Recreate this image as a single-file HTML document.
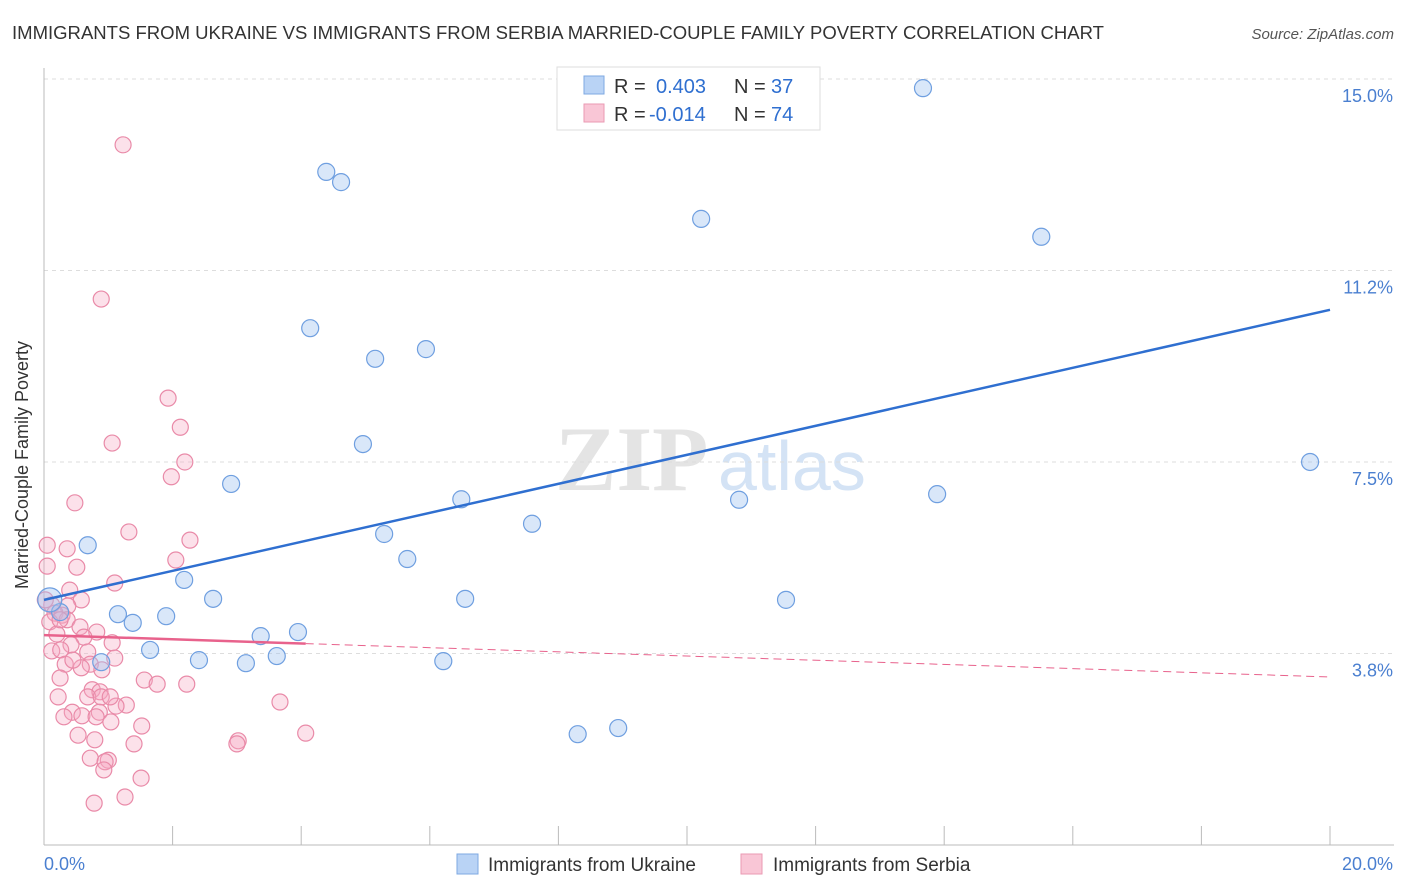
<!DOCTYPE html>
<html><head><meta charset="utf-8"><style>
body{margin:0;background:#fff;font-family:"Liberation Sans",sans-serif;}
svg{display:block}
</style></head><body>
<svg id="chart" width="1406" height="892" xmlns="http://www.w3.org/2000/svg">
<text x="12" y="39" font-size="18" fill="#333" textLength="1092" lengthAdjust="spacingAndGlyphs">IMMIGRANTS FROM UKRAINE VS IMMIGRANTS FROM SERBIA MARRIED-COUPLE FAMILY POVERTY CORRELATION CHART</text>
<text x="1394" y="39" font-size="15" fill="#555" font-style="italic" text-anchor="end">Source: ZipAtlas.com</text>
<g>
<text x="555" y="490" font-size="92" fill="#e4e4e4" font-family="Liberation Serif,serif" font-weight="bold">ZIP</text>
<text x="718" y="490" font-size="70" fill="#d4e3f5">atlas</text>
</g>
<g id="grid"></g>
<g id="axes"></g>
<g id="pts"></g>
<g id="trend"></g>
<text x="18" y="455" font-size="18" fill="#333" text-anchor="middle" transform="rotate(-90 28 455)">Married-Couple Family Poverty</text>
<g>
<rect x="557" y="67" width="263" height="63" fill="#fff" stroke="#ddd"/>
<rect x="584" y="76" width="20" height="18" fill="#b9d3f5" stroke="#7ea8e2"/>
<rect x="584" y="104" width="20" height="18" fill="#f9c6d6" stroke="#ea9ab3"/>
<text x="614" y="93" font-size="20" fill="#333">R =</text><text x="656" y="93" font-size="20" fill="#2f6fd0">0.403</text>
<text x="734" y="93" font-size="20" fill="#333">N =</text><text x="771" y="93" font-size="20" fill="#2f6fd0">37</text>
<text x="614" y="121" font-size="20" fill="#333">R =</text><text x="649" y="121" font-size="20" fill="#2f6fd0">-0.014</text>
<text x="734" y="121" font-size="20" fill="#333">N =</text><text x="771" y="121" font-size="20" fill="#2f6fd0">74</text>
</g>
<g>
<rect x="457" y="854" width="21" height="20" fill="#b9d3f5" stroke="#7ea8e2"/>
<text x="488" y="871" font-size="19" fill="#333">Immigrants from Ukraine</text>
<rect x="741" y="854" width="21" height="20" fill="#f9c6d6" stroke="#ea9ab3"/>
<text x="773" y="871" font-size="19" fill="#333">Immigrants from Serbia</text>
</g>
</svg>
<script>
const yTicks=[3.75,7.5,11.25,15];
const yTickLabels=["3.8%","7.5%","11.2%","15.0%"];
const xTickVals=[0,2,4,6,8,10,12,14,16,18,20];
const ukraineX=[13.67,4.39,4.62,10.22,15.51,4.14,5.15,5.94,4.96,19.69,2.91,6.49,10.81,13.89,7.59,5.29,0.68,5.65,2.18,2.63,6.55,11.54,1.15,1.90,1.38,0.25,3.37,3.95,1.65,2.41,3.14,3.62,0.89,6.21,8.30,8.93,0.09];
const ukraineY=[14.82,13.18,12.98,12.26,11.91,10.12,9.52,9.71,7.85,7.50,7.07,6.77,6.76,6.87,6.29,6.09,5.87,5.60,5.19,4.82,4.82,4.80,4.52,4.48,4.35,4.56,4.09,4.17,3.82,3.62,3.56,3.70,3.58,3.60,2.17,2.29,4.80];
const serbiaX=[1.23,0.89,1.93,2.12,1.06,2.19,1.98,0.48,1.32,2.27,0.05,0.36,2.05,0.05,0.51,1.10,0.40,0.58,0.12,0.37,0.17,0.28,0.36,0.09,0.56,0.82,0.20,0.62,1.06,0.42,0.12,0.68,0.26,1.10,0.72,0.33,0.58,0.90,1.56,1.76,2.22,0.25,0.75,0.87,0.68,0.89,3.67,1.28,1.12,0.44,0.86,0.59,0.81,0.31,1.04,1.52,0.53,4.07,1.40,3.02,3.00,0.72,1.00,0.95,0.93,1.51,1.26,0.78,0.25,0.02,0.45,0.22,1.03,0.79];
const serbiaY=[13.71,10.69,8.75,8.18,7.87,7.50,7.21,6.70,6.13,5.97,5.87,5.80,5.58,5.46,5.44,5.13,4.99,4.80,4.70,4.68,4.54,4.50,4.41,4.37,4.27,4.17,4.13,4.07,3.96,3.92,3.80,3.78,3.82,3.66,3.54,3.54,3.47,3.43,3.23,3.15,3.15,3.27,3.04,3.00,2.90,2.90,2.80,2.74,2.72,2.60,2.60,2.53,2.51,2.51,2.41,2.33,2.15,2.19,1.98,2.04,1.98,1.70,1.66,1.63,1.47,1.31,0.94,0.82,4.41,4.80,3.62,2.90,2.90,2.06];
const ukraineTrend=[4.80,10.48];
const serbiaTrend=[4.11,3.29];
const NS="http://www.w3.org/2000/svg";
const X=v=>44+v*64.3, Y=v=>845-v*51.07;
function mk(tag,attrs,parent){const e=document.createElementNS(NS,tag);for(const k in attrs)e.setAttribute(k,attrs[k]);document.getElementById(parent).appendChild(e);return e;}
yTicks.forEach((t,i)=>{
 const l=mk('line',{x1:44,x2:1394,y1:Y(t),y2:Y(t),stroke:'#ddd','stroke-dasharray':'4 4'},'grid');
 
 
 const tx=mk('text',{x:1393,y:Y(t)+23,'font-size':18,fill:'#4a7fd0','text-anchor':'end'},'grid');
 tx.textContent=yTickLabels[i];
 
 
});
mk('line',{x1:44,x2:44,y1:68,y2:845,stroke:'#bbb'},'axes');
mk('line',{x1:44,x2:1394,y1:845,y2:845,stroke:'#bbb'},'axes');
xTickVals.forEach(v=>{
 const t=mk('line',{x1:X(v),x2:X(v),y1:826,y2:845,stroke:'#bbb'},'axes');
 
 
});
const xl0=mk('text',{x:44,y:870,'font-size':18,fill:'#4a7fd0'},'axes');xl0.textContent='0.0%';


const xl1=mk('text',{x:1393,y:870,'font-size':18,fill:'#4a7fd0','text-anchor':'end'},'axes');xl1.textContent='20.0%';


serbiaX.forEach((v,i)=>{
 const c=mk('circle',{cx:X(v),cy:Y(serbiaY[i]),r:8,fill:'rgba(245,170,195,0.35)',stroke:'#e98aa8','stroke-width':1.2},'pts');
 
 
});
ukraineX.forEach((v,i)=>{
 const c=mk('circle',{cx:X(v),cy:Y(ukraineY[i]),r:(i==ukraineX.length-1?12:8.5),fill:'rgba(160,195,240,0.4)',stroke:'#6f9fe0','stroke-width':1.2},'pts');
 
 
});
const bt=mk('line',{x1:X(0),y1:Y(ukraineTrend[0]),x2:X(20),y2:Y(ukraineTrend[1]),stroke:'#2f6fd0','stroke-width':2.5},'trend');


const fr=4.07/20, ym=serbiaTrend[0]+(serbiaTrend[1]-serbiaTrend[0])*fr;
const pt=mk('line',{x1:X(0),y1:Y(serbiaTrend[0]),x2:X(4.07),y2:Y(ym),stroke:'#e8628c','stroke-width':2.5},'trend');


const pd=mk('line',{x1:X(4.07),y1:Y(ym),x2:X(20),y2:Y(serbiaTrend[1]),stroke:'#e8628c','stroke-width':1,'stroke-dasharray':'8 5'},'trend');


</script>
</body></html>
